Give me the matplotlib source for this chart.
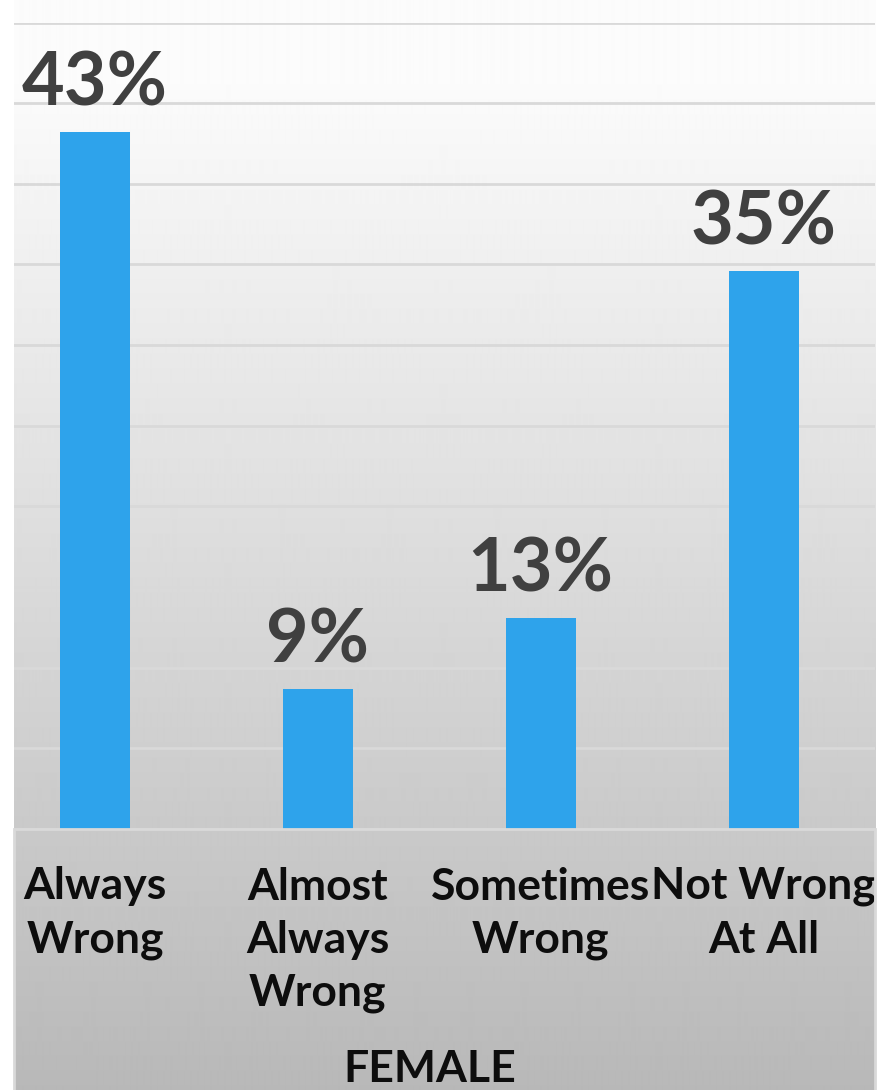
import numpy as np
import matplotlib.pyplot as plt
from matplotlib.patches import Rectangle

categories = ['Always\nWrong', 'Almost\nAlways\nWrong', 'Sometimes\nWrong', 'Not Wrong\nAt All']
values = [43.2, 8.7, 13.1, 34.6]
group_label = 'FEMALE'

plt.rcParams['font.family'] = ['Lato', 'DejaVu Sans']

W, H = 880, 1090
fig = plt.figure(figsize=(W / 100, H / 100), dpi=100)
fig.patch.set_facecolor('white')

# background gradient panel (light at top, grey at bottom)
left, right = 14, 875
bg = fig.add_axes([left / W, 0, (right - left) / W, 1])
ys = np.arange(H)
shade = np.clip(250 - (ys - 100) * (66 / 990), 184, 252) / 255
grad = np.repeat(shade[:, None], 2, axis=1)
bg.imshow(grad, cmap='gray', vmin=0, vmax=1, aspect='auto', interpolation='bilinear')
bg.axis('off')

# main plot area
top_px, base_px = 22.5, 829
ax = fig.add_axes([left / W, (H - base_px) / H, (right - left) / W, (base_px - top_px) / H])
ax.patch.set_alpha(0)
x = np.arange(len(values))
bars = ax.bar(x, values, width=0.314, color='#2EA3EB', zorder=3)
ax.set_ylim(0, 50)
ax.set_xlim(-0.363, 3.5)
ax.set_yticks(np.arange(0, 51, 5))
ax.yaxis.grid(True, color='#d9d9d9', linewidth=2)
ax.tick_params(axis='y', length=0, labelleft=False)
for s in ax.spines.values():
    s.set_visible(False)

for b, v in zip(bars, values):
    ax.annotate(f'{v:.0f}%', (b.get_x() + b.get_width() / 2, v),
                xytext=(0, 19), textcoords='offset points',
                ha='center', va='baseline', fontsize=53, fontweight='bold',
                color='#404040')

ax.set_xticks(x)
ax.set_xticklabels(categories, fontsize=32, fontweight='bold', color='#0d0d0d',
                   linespacing=1.4)
ax.tick_params(axis='x', length=0, pad=27)

# category box border
fig.patches.append(Rectangle((left / W, -0.01), (right - left) / W, (H - base_px) / H + 0.01,
                             transform=fig.transFigure, fill=False,
                             edgecolor='#d9d9d9', linewidth=2))

fig.text(430 / W, 1 / H, group_label, ha='center', va='bottom',
         fontsize=32, fontweight='bold', color='#0d0d0d')

fig.savefig('out.png', dpi=100)
